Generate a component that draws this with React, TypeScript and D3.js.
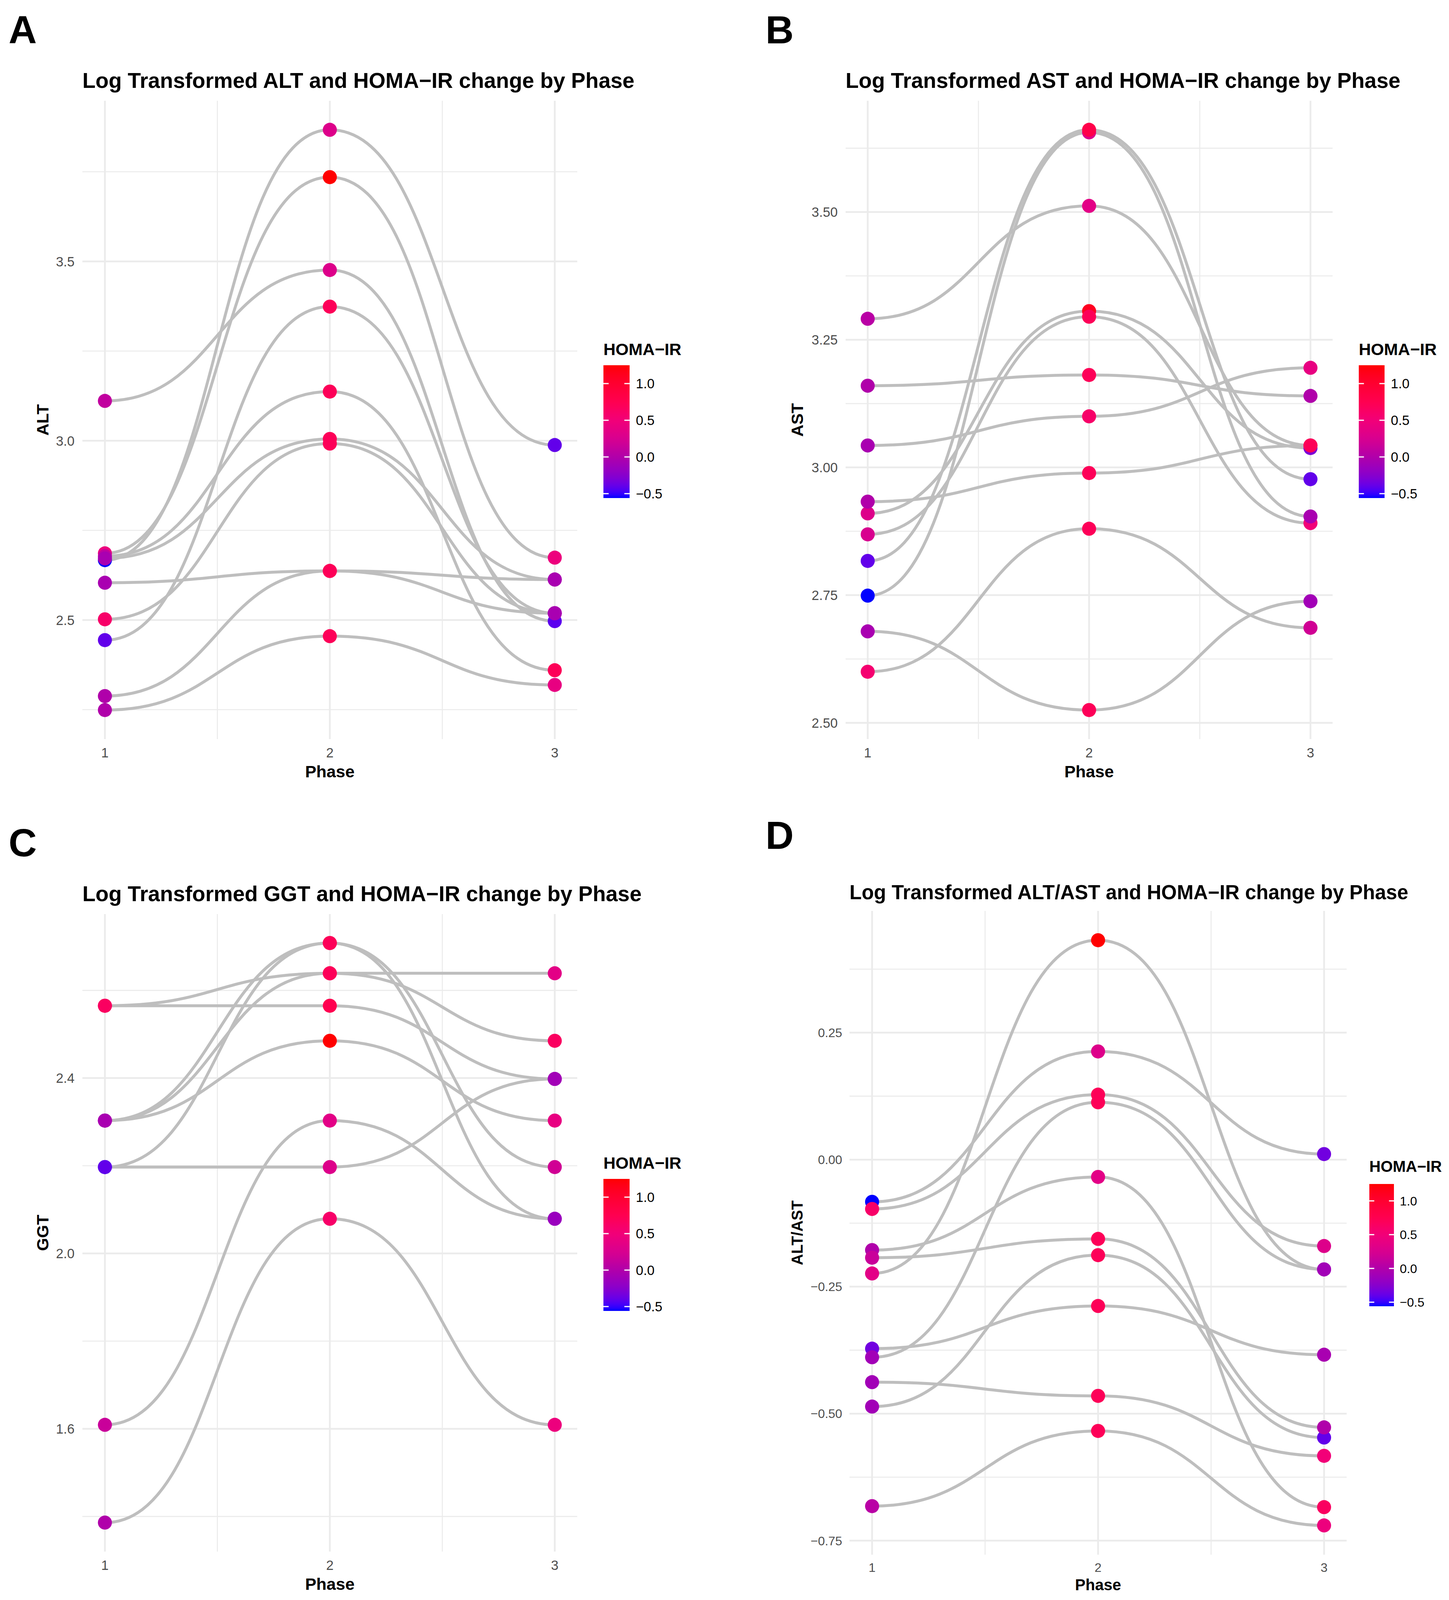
import React from "react";
import * as d3 from "d3";

// ---------------- DATA ----------------
const PHASES = [1, 2, 3];

// Panel A — log ALT, one entry per subject
const ALT_P1 = [3.111, 2.667, 2.686, 2.678, 2.672, 2.502, 2.444, 2.604, 2.288, 2.249];
const ALT_P2 = [3.476, 3.867, 3.735, 3.137, 3.005, 2.992, 3.374, 2.637, 2.637, 2.455];
const ALT_P3 = [2.497, 2.988, 2.674, 2.360, 2.613, 2.519, 2.519, 2.613, 2.519, 2.319];
const ALT_H1 = [0.1, -0.56, 0.45, 0.1, -0.05, 0.6, -0.4, -0.05, 0.0, 0.0];
const ALT_H2 = [0.3, 0.3, 1.25, 0.7, 0.7, 0.7, 0.7, 0.7, 0.7, 0.7];
const ALT_H3 = [-0.42, -0.4, 0.45, 0.7, -0.05, -0.05, -0.05, -0.05, -0.05, 0.4];

// Panel B — log AST
const AST_P1 = [3.291, 3.160, 3.043, 2.910, 2.869, 2.933, 2.749, 2.817, 2.679, 2.600];
const AST_P2 = [3.512, 3.181, 3.100, 3.306, 3.295, 2.989, 3.656, 3.661, 2.525, 2.880];
const AST_P3 = [3.043, 3.140, 3.195, 3.038, 2.891, 3.043, 2.904, 2.977, 2.738, 2.686];
const AST_H1 = [0.05, 0.0, -0.05, 0.3, 0.25, 0.0, -0.56, -0.4, -0.05, 0.55];
const AST_H2 = [0.35, 0.7, 0.6, 1.1, 0.7, 0.7, 0.3, 0.8, 0.7, 0.7];
const AST_H3 = [0.3, 0.0, 0.4, -0.3, 0.5, 0.7, -0.05, -0.4, -0.1, 0.2];

// Panel C — log GGT
const GGT_P1 = [2.565, 2.565, 2.303, 2.303, 2.303, 2.197, 2.197, 1.609, 1.386];
const GGT_P2 = [2.565, 2.639, 2.708, 2.639, 2.485, 2.197, 2.708, 2.303, 2.079];
const GGT_P3 = [2.398, 2.639, 2.197, 2.485, 2.303, 2.398, 2.079, 2.079, 1.609];
const GGT_H1 = [0.65, 0.65, -0.05, -0.05, -0.05, -0.56, -0.4, 0.15, 0.0];
const GGT_H2 = [0.75, 0.7, 0.7, 0.7, 1.25, 0.3, 0.7, 0.35, 0.6];
const GGT_H3 = [-0.1, 0.35, 0.2, 0.65, 0.4, -0.1, -0.15, -0.15, 0.45];

// Panel D — log ALT/AST
const RATIO_P1 = [-0.083, -0.097, -0.178, -0.486, -0.193, -0.224, -0.372, -0.389, -0.438, -0.682];
const RATIO_P2 = [0.213, 0.128, -0.034, -0.188, -0.156, 0.432, -0.288, 0.113, -0.465, -0.534];
const RATIO_P3 = [0.011, -0.170, -0.684, -0.547, -0.527, -0.216, -0.384, -0.216, -0.583, -0.720];
const RATIO_H1 = [-0.56, 0.6, 0.0, -0.1, 0.15, 0.35, -0.35, -0.1, -0.1, 0.05];
const RATIO_H2 = [0.3, 0.7, 0.35, 0.7, 0.7, 1.25, 0.7, 0.7, 0.7, 0.7];
const RATIO_H3 = [-0.35, 0.3, 0.65, -0.4, 0.0, -0.1, -0.05, -0.1, 0.5, 0.45];

// Tick labels
const X_TICKS = [1, 2, 3];
const ALT_TICKS = [2.5, 3.0, 3.5];
const AST_TICKS = [2.5, 2.75, 3.0, 3.25, 3.5];
const GGT_TICKS = [1.6, 2.0, 2.4];
const RATIO_TICKS = [-0.75, -0.5, -0.25, 0, 0.25];
const LEGEND_TICKS = [-0.5, 0, 0.5, 1.0];

// ---------------- STYLE ----------------
const FONT = '"Liberation Sans", Arial, Helvetica, sans-serif';
const GRID = "#EBEBEB";
const LINE = "#BEBEBE";

const ALL_HOMA = [
  ...ALT_H1, ...ALT_H2, ...ALT_H3,
  ...AST_H1, ...AST_H2, ...AST_H3,
  ...GGT_H1, ...GGT_H2, ...GGT_H3,
  ...RATIO_H1, ...RATIO_H2, ...RATIO_H3,
];
const HOMA_EXTENT = d3.extent(ALL_HOMA) as [number, number];

// blue -> red gradient, colour stops
const GRAD_POS = [0, 0.033, 0.171, 0.309, 0.448, 0.586, 0.724, 0.862, 1];
const GRAD_COLORS = ["#0000FF", "#3300FF", "#8800CC", "#B000AA", "#D8008F", "#F20078", "#FF0050", "#FF0030", "#FF0000"];
const gradT = d3
  .scaleLinear<string>()
  .domain(GRAD_POS)
  .range(GRAD_COLORS)
  .interpolate(d3.interpolateLab)
  .clamp(true);
const toT = d3.scaleLinear().domain(HOMA_EXTENT).range([0, 1]).clamp(true);
const colorScale = (v: number) => gradT(toT(v));

const fmt = (d: number, digits: number) => d.toFixed(digits).replace("-", "\u2212");

function expand([lo, hi]: [number, number]): [number, number] {
  const r = hi - lo;
  return [lo - 0.05 * r, hi + 0.05 * r];
}

type PanelCfg = {
  id: string;
  letter: string;
  letterX: number;
  letterY: number;
  title: string;
  titleY: number;
  yLabel: string;
  yLabelX: number;
  left: number;
  right: number;
  top: number;
  bottom: number;
  yTicks: number[];
  digits: number;
  p: number[][];
  h: number[][];
  legX: number;
  legTitleY: number;
  barTop: number;
  barBottom: number;
  barW: number;
  s: number;
};

function Panel({ c }: { c: PanelCfg }) {
  const x = d3.scaleLinear().domain(expand(d3.extent(PHASES) as [number, number])).range([c.left, c.right]);
  const allY = c.p.flat();
  const yDom = expand(d3.extent(allY) as [number, number]);
  const y = d3.scaleLinear().domain(yDom).range([c.bottom, c.top]);

  const step = c.yTicks[1] - c.yTicks[0];
  const minorY = [c.yTicks[0] - step / 2, ...c.yTicks.map((t) => t + step / 2)].filter(
    (v) => v >= yDom[0] && v <= yDom[1]
  );
  const xDom = x.domain();
  const minorX = [X_TICKS[0] - 0.5, ...X_TICKS.map((t) => t + 0.5)].filter((v) => v >= xDom[0] && v <= xDom[1]);

  const nSub = c.p[0].length;
  const line = d3
    .line<[number, number]>()
    .x((d) => x(d[0]))
    .y((d) => y(d[1]))
    .curve(d3.curveBumpX);

  const s = c.s;
  const tickSize = 34.4 * s;
  const axisTitle = 43 * s;

  const cs = d3.scaleLinear().domain(HOMA_EXTENT).range([c.barBottom, c.barTop]);
  const stops = d3.range(0, 41).map((i) => i / 40);
  const gid = `grad-${c.id}`;

  return (
    <g>
      <text x={c.letterX} y={c.letterY} fontFamily={FONT} fontWeight="bold" fontSize={100} fill="#000">
        {c.letter}
      </text>
      <text x={c.left} y={c.titleY} fontFamily={FONT} fontWeight="bold" fontSize={55 * s} fill="#000">
        {c.title}
      </text>

      {/* grid */}
      {minorY.map((v) => (
        <line key={`my${v}`} x1={c.left} x2={c.right} y1={y(v)} y2={y(v)} stroke={GRID} strokeWidth={2.6} />
      ))}
      {minorX.map((v) => (
        <line key={`mx${v}`} x1={x(v)} x2={x(v)} y1={c.top} y2={c.bottom} stroke={GRID} strokeWidth={2.6} />
      ))}
      {c.yTicks.map((v) => (
        <line key={`gy${v}`} x1={c.left} x2={c.right} y1={y(v)} y2={y(v)} stroke={GRID} strokeWidth={4.5} />
      ))}
      {X_TICKS.map((v) => (
        <line key={`gx${v}`} x1={x(v)} x2={x(v)} y1={c.top} y2={c.bottom} stroke={GRID} strokeWidth={4.5} />
      ))}

      {/* axis labels */}
      {c.yTicks.map((v) => (
        <text
          key={`ty${v}`}
          x={c.left - 20 * s}
          y={y(v)}
          dy="0.36em"
          textAnchor="end"
          fontFamily={FONT}
          fontSize={tickSize}
          fill="#4D4D4D"
        >
          {fmt(v, c.digits)}
        </text>
      ))}
      {X_TICKS.map((v) => (
        <text
          key={`tx${v}`}
          x={x(v)}
          y={c.bottom + 47 * s}
          textAnchor="middle"
          fontFamily={FONT}
          fontSize={tickSize}
          fill="#4D4D4D"
        >
          {v}
        </text>
      ))}
      <text
        x={(c.left + c.right) / 2}
        y={c.bottom + 98 * s}
        textAnchor="middle"
        fontFamily={FONT}
        fontWeight="bold"
        fontSize={axisTitle}
        fill="#000"
      >
        Phase
      </text>
      <text
        transform={`translate(${c.yLabelX},${(c.top + c.bottom) / 2}) rotate(-90)`}
        dy="0.36em"
        textAnchor="middle"
        fontFamily={FONT}
        fontWeight="bold"
        fontSize={axisTitle}
        fill="#000"
      >
        {c.yLabel}
      </text>

      {/* lines */}
      {d3.range(nSub).map((i) => (
        <path
          key={`l${i}`}
          d={line(PHASES.map((ph, k) => [ph, c.p[k][i]] as [number, number])) || ""}
          fill="none"
          stroke={LINE}
          strokeWidth={7.5}
        />
      ))}
      {/* points */}
      {d3.range(nSub).map((i) =>
        PHASES.map((ph, k) => (
          <circle key={`p${i}-${k}`} cx={x(ph)} cy={y(c.p[k][i])} r={18} fill={colorScale(c.h[k][i])} />
        ))
      )}

      {/* legend */}
      <defs>
        <linearGradient id={gid} x1="0" y1="1" x2="0" y2="0">
          {stops.map((t) => (
            <stop key={t} offset={`${t * 100}%`} stopColor={gradT(t)} />
          ))}
        </linearGradient>
      </defs>
      <text x={c.legX} y={c.legTitleY} fontFamily={FONT} fontWeight="bold" fontSize={axisTitle} fill="#000">
        HOMA{"\u2212"}IR
      </text>
      <rect x={c.legX} y={c.barTop} width={c.barW} height={c.barBottom - c.barTop} fill={`url(#${gid})`} />
      {LEGEND_TICKS.map((v) => (
        <g key={`lt${v}`}>
          <line x1={c.legX} x2={c.legX + c.barW / 5} y1={cs(v)} y2={cs(v)} stroke="#fff" strokeWidth={3} />
          <line
            x1={c.legX + c.barW - c.barW / 5}
            x2={c.legX + c.barW}
            y1={cs(v)}
            y2={cs(v)}
            stroke="#fff"
            strokeWidth={3}
          />
          <text
            x={c.legX + c.barW + 16 * s}
            y={cs(v)}
            dy="0.36em"
            fontFamily={FONT}
            fontSize={tickSize}
            fill="#000"
          >
            {fmt(v, 1)}
          </text>
        </g>
      ))}
    </g>
  );
}

const PANELS: PanelCfg[] = [
  {
    id: "A",
    letter: "A",
    letterX: 22,
    letterY: 111,
    title: "Log Transformed ALT and HOMA\u2212IR change by Phase",
    titleY: 225,
    yLabel: "ALT",
    yLabelX: 109,
    left: 211,
    right: 1478,
    top: 258,
    bottom: 1892,
    yTicks: ALT_TICKS,
    digits: 1,
    p: [ALT_P1, ALT_P2, ALT_P3],
    h: [ALT_H1, ALT_H2, ALT_H3],
    legX: 1545,
    legTitleY: 909,
    barTop: 935,
    barBottom: 1275,
    barW: 67,
    s: 1,
  },
  {
    id: "B",
    letter: "B",
    letterX: 1960,
    letterY: 111,
    title: "Log Transformed AST and HOMA\u2212IR change by Phase",
    titleY: 225,
    yLabel: "AST",
    yLabelX: 2041,
    left: 2165,
    right: 3412,
    top: 258,
    bottom: 1892,
    yTicks: AST_TICKS,
    digits: 2,
    p: [AST_P1, AST_P2, AST_P3],
    h: [AST_H1, AST_H2, AST_H3],
    legX: 3479,
    legTitleY: 909,
    barTop: 935,
    barBottom: 1275,
    barW: 66,
    s: 1,
  },
  {
    id: "C",
    letter: "C",
    letterX: 22,
    letterY: 2192,
    title: "Log Transformed GGT and HOMA\u2212IR change by Phase",
    titleY: 2307,
    yLabel: "GGT",
    yLabelX: 109,
    left: 211,
    right: 1478,
    top: 2340,
    bottom: 3972,
    yTicks: GGT_TICKS,
    digits: 1,
    p: [GGT_P1, GGT_P2, GGT_P3],
    h: [GGT_H1, GGT_H2, GGT_H3],
    legX: 1545,
    legTitleY: 2992,
    barTop: 3018,
    barBottom: 3356,
    barW: 67,
    s: 1,
  },
  {
    id: "D",
    letter: "D",
    letterX: 1960,
    letterY: 2173,
    title: "Log Transformed ALT/AST and HOMA\u2212IR change by Phase",
    titleY: 2302,
    yLabel: "ALT/AST",
    yLabelX: 2041,
    left: 2175,
    right: 3448,
    top: 2332,
    bottom: 3980,
    yTicks: RATIO_TICKS,
    digits: 2,
    p: [RATIO_P1, RATIO_P2, RATIO_P3],
    h: [RATIO_H1, RATIO_H2, RATIO_H3],
    legX: 3506,
    legTitleY: 3000,
    barTop: 3031,
    barBottom: 3344,
    barW: 63,
    s: 0.93,
  },
];

export default function App() {
  return (
    <>
      <style>{`html,body{margin:0;padding:0;background:#fff;}`}</style>
      <svg width={3710} height={4098} viewBox="0 0 3710 4098" style={{ display: "block" }}>
        <rect x={0} y={0} width={3710} height={4098} fill="#fff" />
        {PANELS.map((c) => (
          <Panel key={c.id} c={c} />
        ))}
      </svg>
    </>
  );
}
